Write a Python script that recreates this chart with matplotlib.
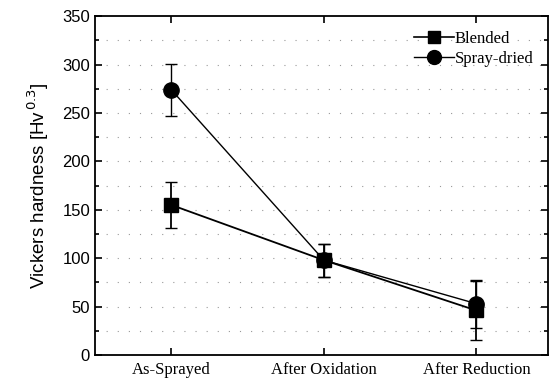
import numpy as np
import matplotlib.pyplot as plt
from matplotlib.lines import Line2D

# --- Data ---
stages = ['As-Sprayed', 'After Oxidation', 'After Reduction']
blended = [155, 98, 46]
blended_err = [24, 17, 30]
spray_dried = [274, 98, 53]
spray_dried_err = [27, 17, 25]

# --- Plot ---
fig = plt.figure(figsize=(5.52, 3.83), dpi=100)
ax = fig.add_axes([0.172, 0.073, 0.821, 0.885])
x = np.arange(len(stages))

ax.errorbar(x, blended, yerr=blended_err, color='black', marker='s', ms=10,
            lw=1.3, capsize=4, elinewidth=1.3)
ax.errorbar(x, spray_dried, yerr=spray_dried_err, color='black', marker='o', ms=11,
            lw=1.0, capsize=4, elinewidth=1.0)

# sparse dotted grid, like the scanned original
for yv in np.arange(25, 350, 25):
    ax.axhline(yv, color='0.6', lw=0.8, ls=(0, (1, 9)), zorder=0)

ax.set_xlim(-0.5, 2.47)
ax.set_ylim(0, 350)
ax.set_xticks(x)
ax.set_xticklabels(stages, family='Liberation Serif', fontsize=12)
ax.set_yticks(np.arange(0, 351, 50))
ax.set_yticks(np.arange(0, 351, 25), minor=True)
for lab in ax.get_yticklabels():
    lab.set_family('Liberation Sans')
    lab.set_fontsize(12)
ax.tick_params(direction='in', which='both', top=True, right=True, width=1.2)
ax.tick_params(which='major', length=5)
ax.tick_params(which='minor', length=3)
ax.tick_params(axis='x', pad=5)
for sp in ax.spines.values():
    sp.set_linewidth(1.3)

ax.set_ylabel('Vickers hardness [Hv$^{\\,0.3}$]', family='Liberation Sans', fontsize=13.5,
              labelpad=8)

handles = [Line2D([], [], color='black', marker='s', ms=9, lw=1.2),
           Line2D([], [], color='black', marker='o', ms=10, lw=1.0)]
ax.legend(handles, ['Blended', 'Spray-dried'], loc='upper right', frameon=False,
          prop={'family': 'Liberation Serif', 'size': 12},
          handlelength=2.4, handletextpad=0.05, borderaxespad=0.5, labelspacing=0.25)

fig.savefig('out.png', dpi=100)
